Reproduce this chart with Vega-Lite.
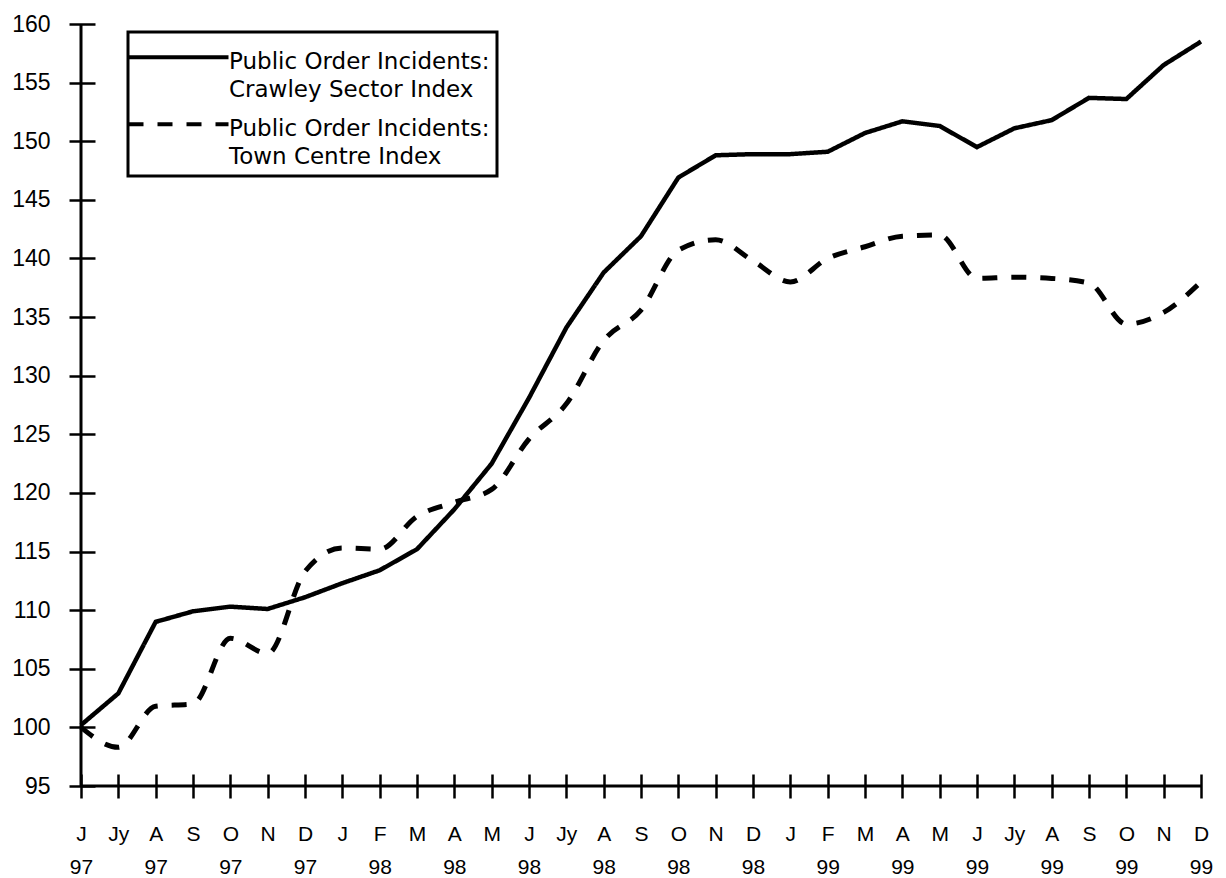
{
  "$schema": "https://vega.github.io/schema/vega-lite/v6.json",
  "autosize": {"type": "none"},
  "padding": {"left": 81, "top": 24, "right": 25, "bottom": 92},
  "width": 1120,
  "height": 762,
  "background": "white",
  "data": {"values": [
    {"m": 0, "series": "Crawley Sector Index", "v": 100.2},
    {"m": 1, "series": "Crawley Sector Index", "v": 102.9},
    {"m": 2, "series": "Crawley Sector Index", "v": 109.0},
    {"m": 3, "series": "Crawley Sector Index", "v": 109.9},
    {"m": 4, "series": "Crawley Sector Index", "v": 110.3},
    {"m": 5, "series": "Crawley Sector Index", "v": 110.1},
    {"m": 6, "series": "Crawley Sector Index", "v": 111.1},
    {"m": 7, "series": "Crawley Sector Index", "v": 112.3},
    {"m": 8, "series": "Crawley Sector Index", "v": 113.4},
    {"m": 9, "series": "Crawley Sector Index", "v": 115.2},
    {"m": 10, "series": "Crawley Sector Index", "v": 118.6},
    {"m": 11, "series": "Crawley Sector Index", "v": 122.5},
    {"m": 12, "series": "Crawley Sector Index", "v": 128.1},
    {"m": 13, "series": "Crawley Sector Index", "v": 134.1},
    {"m": 14, "series": "Crawley Sector Index", "v": 138.8},
    {"m": 15, "series": "Crawley Sector Index", "v": 141.9},
    {"m": 16, "series": "Crawley Sector Index", "v": 146.9},
    {"m": 17, "series": "Crawley Sector Index", "v": 148.8},
    {"m": 18, "series": "Crawley Sector Index", "v": 148.9},
    {"m": 19, "series": "Crawley Sector Index", "v": 148.9},
    {"m": 20, "series": "Crawley Sector Index", "v": 149.1},
    {"m": 21, "series": "Crawley Sector Index", "v": 150.7},
    {"m": 22, "series": "Crawley Sector Index", "v": 151.7},
    {"m": 23, "series": "Crawley Sector Index", "v": 151.3},
    {"m": 24, "series": "Crawley Sector Index", "v": 149.5},
    {"m": 25, "series": "Crawley Sector Index", "v": 151.1},
    {"m": 26, "series": "Crawley Sector Index", "v": 151.8},
    {"m": 27, "series": "Crawley Sector Index", "v": 153.7},
    {"m": 28, "series": "Crawley Sector Index", "v": 153.6},
    {"m": 29, "series": "Crawley Sector Index", "v": 156.5},
    {"m": 30, "series": "Crawley Sector Index", "v": 158.5},
    {"m": 0, "series": "Town Centre Index", "v": 100.0},
    {"m": 1, "series": "Town Centre Index", "v": 98.3},
    {"m": 2, "series": "Town Centre Index", "v": 101.8},
    {"m": 3, "series": "Town Centre Index", "v": 102.0},
    {"m": 4, "series": "Town Centre Index", "v": 107.6},
    {"m": 5, "series": "Town Centre Index", "v": 106.3},
    {"m": 6, "series": "Town Centre Index", "v": 113.3},
    {"m": 7, "series": "Town Centre Index", "v": 115.3},
    {"m": 8, "series": "Town Centre Index", "v": 115.2},
    {"m": 9, "series": "Town Centre Index", "v": 118.0},
    {"m": 10, "series": "Town Centre Index", "v": 119.2},
    {"m": 11, "series": "Town Centre Index", "v": 120.3},
    {"m": 12, "series": "Town Centre Index", "v": 124.6},
    {"m": 13, "series": "Town Centre Index", "v": 127.6},
    {"m": 14, "series": "Town Centre Index", "v": 133.0},
    {"m": 15, "series": "Town Centre Index", "v": 135.6},
    {"m": 16, "series": "Town Centre Index", "v": 140.7},
    {"m": 17, "series": "Town Centre Index", "v": 141.6},
    {"m": 18, "series": "Town Centre Index", "v": 139.8},
    {"m": 19, "series": "Town Centre Index", "v": 138.0},
    {"m": 20, "series": "Town Centre Index", "v": 140.0},
    {"m": 21, "series": "Town Centre Index", "v": 141.0},
    {"m": 22, "series": "Town Centre Index", "v": 141.9},
    {"m": 23, "series": "Town Centre Index", "v": 142.0},
    {"m": 24, "series": "Town Centre Index", "v": 138.3},
    {"m": 25, "series": "Town Centre Index", "v": 138.4},
    {"m": 26, "series": "Town Centre Index", "v": 138.3},
    {"m": 27, "series": "Town Centre Index", "v": 137.9},
    {"m": 28, "series": "Town Centre Index", "v": 134.4},
    {"m": 29, "series": "Town Centre Index", "v": 135.4},
    {"m": 30, "series": "Town Centre Index", "v": 138.0}
  ]},
  "layer": [
    {
      "transform": [{"filter": "datum.series == 'Crawley Sector Index'"}],
      "mark": {"type": "line", "interpolate": "linear", "strokeWidth": 4.5, "color": "black"},
      "encoding": {
        "x": {"field": "m", "type": "quantitative", "title": null,
              "scale": {"domain": [0, 30], "nice": false, "zero": false},
              "axis": {"values": [0,1,2,3,4,5,6,7,8,9,10,11,12,13,14,15,16,17,18,19,20,21,22,23,24,25,26,27,28,29,30],
                       "tickCount": 31,
                       "labelExpr": "[['J','Jy','A','S','O','N','D','J','F','M','A','M','J','Jy','A','S','O','N','D','J','F','M','A','M','J','Jy','A','S','O','N','D'][datum.value], datum.value % 2 == 0 ? (datum.value < 7 ? '97' : (datum.value < 19 ? '98' : '99')) : '']"}},
        "y": {"field": "v", "type": "quantitative", "title": null,
              "scale": {"domain": [95, 160], "nice": false, "zero": false},
              "axis": {"values": [95,100,105,110,115,120,125,130,135,140,145,150,155,160]}},
        "strokeDash": {"field": "series", "type": "nominal",
              "scale": {"domain": ["Crawley Sector Index", "Town Centre Index"], "range": [[1, 0], [15, 14]]},
              "legend": {"orient": "none", "legendX": 47, "legendY": 8, "title": null,
                         "labelExpr": "['Public Order Incidents:', datum.label]"}}
      }
    },
    {
      "transform": [{"filter": "datum.series == 'Town Centre Index'"}],
      "mark": {"type": "line", "interpolate": "monotone", "strokeWidth": 5, "color": "black"},
      "encoding": {
        "x": {"field": "m", "type": "quantitative", "title": null,
              "axis": {"values": [0,1,2,3,4,5,6,7,8,9,10,11,12,13,14,15,16,17,18,19,20,21,22,23,24,25,26,27,28,29,30],
                       "tickCount": 31,
                       "labelExpr": "[['J','Jy','A','S','O','N','D','J','F','M','A','M','J','Jy','A','S','O','N','D','J','F','M','A','M','J','Jy','A','S','O','N','D'][datum.value], datum.value % 2 == 0 ? (datum.value < 7 ? '97' : (datum.value < 19 ? '98' : '99')) : '']"}},
        "y": {"field": "v", "type": "quantitative", "title": null,
              "axis": {"values": [95,100,105,110,115,120,125,130,135,140,145,150,155,160]}},
        "strokeDash": {"field": "series", "type": "nominal"}
      }
    },
    {
      "data": {"values": [{}]},
      "mark": {"type": "rule", "strokeWidth": 3, "color": "black"},
      "encoding": {"y": {"datum": 95, "type": "quantitative", "title": null,
              "axis": {"values": [95,100,105,110,115,120,125,130,135,140,145,150,155,160]}}}
    },
    {
      "data": {"values": [{}]},
      "mark": {"type": "rule", "strokeWidth": 3, "color": "black"},
      "encoding": {"x": {"datum": 0, "type": "quantitative", "title": null,
              "axis": {"values": [0,1,2,3,4,5,6,7,8,9,10,11,12,13,14,15,16,17,18,19,20,21,22,23,24,25,26,27,28,29,30],
                       "tickCount": 31,
                       "labelExpr": "[['J','Jy','A','S','O','N','D','J','F','M','A','M','J','Jy','A','S','O','N','D','J','F','M','A','M','J','Jy','A','S','O','N','D'][datum.value], datum.value % 2 == 0 ? (datum.value < 7 ? '97' : (datum.value < 19 ? '98' : '99')) : '']"}}}
    }
  ],
  "config": {
    "view": {"stroke": null},
    "font": "Liberation Sans",
    "style": {"guide-label": {"lineHeight": 28}},
    "axisX": {"domain": false, "grid": false, "offset": -12, "tickSize": 24, "tickWidth": 2.5, "tickColor": "black",
              "labelFont": "Liberation Sans", "labelFontSize": 21, "labelColor": "black", "labelPadding": 25,
              "labelLineHeight": 33, "labelAngle": 0, "labelOverlap": false, "labelFlush": false},
    "axisY": {"domain": false, "grid": false, "offset": -14, "tickSize": 26, "tickWidth": 2.5, "tickColor": "black",
              "labelFont": "Liberation Sans", "labelFontSize": 23, "labelColor": "black", "labelPadding": 19,
              "labelOverlap": false, "labelFlush": false},
    "legend": {"padding": 7, "strokeColor": "black", "strokeWidth": 3, "fillColor": "white",
               "symbolType": "M-2.25,0.85H10.25", "symbolSize": 256, "symbolStrokeWidth": 4, "symbolStrokeColor": "black",
               "symbolFillColor": "transparent",
               "labelFont": "DejaVu Sans", "labelFontSize": 23, "labelColor": "black", "labelLimit": 0,
               "labelOffset": 71, "labelBaseline": "top", "rowPadding": 4}
  }
}
